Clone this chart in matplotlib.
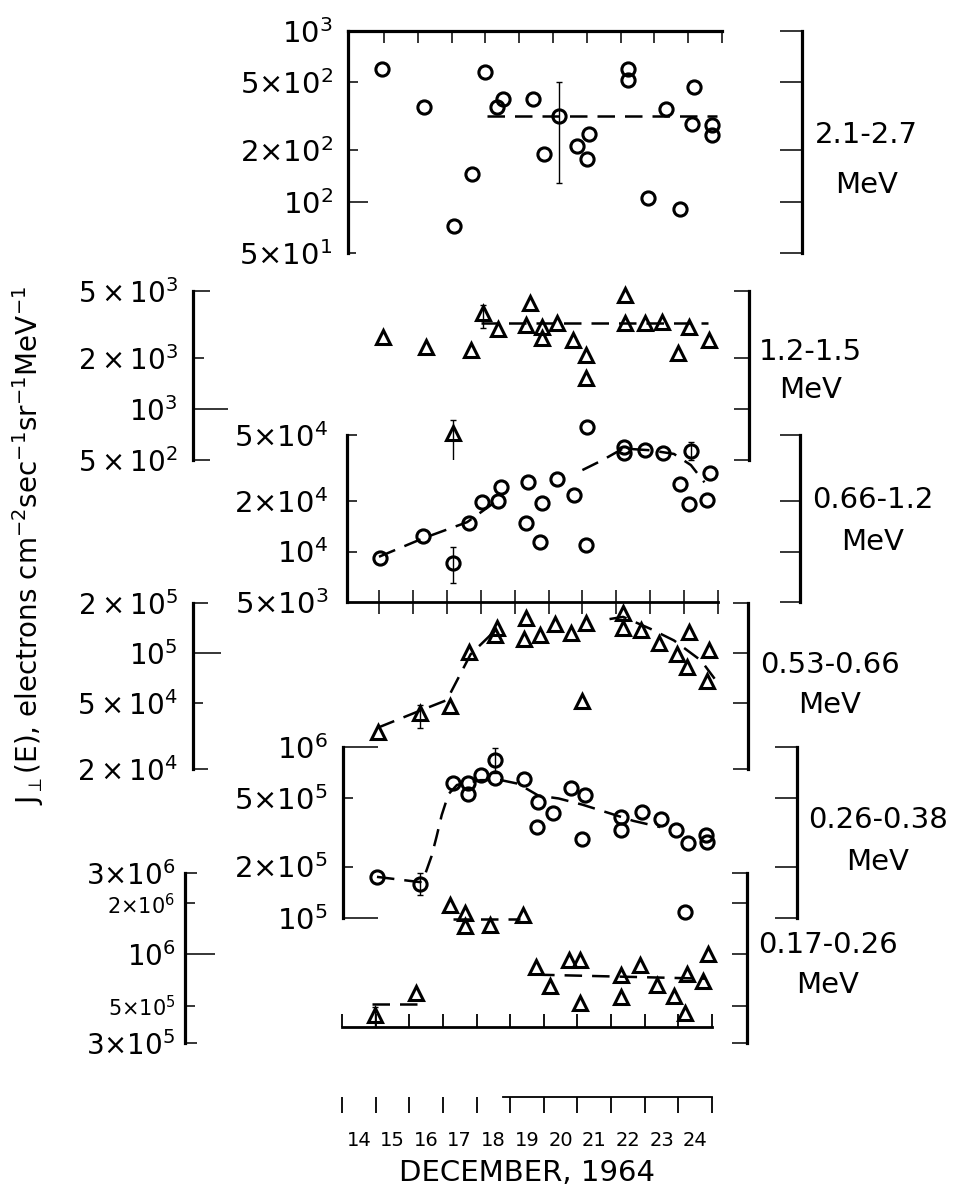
import matplotlib
matplotlib.use('Agg')
import matplotlib.pyplot as plt
import matplotlib.ticker as mticker
from matplotlib import font_manager
import numpy as np

# --- electron flux by energy channel, December 1964 (day of month, flux) ---
# 2.1-2.7 MeV
a_day = [14.93, 16.19, 17.07, 17.59, 17.99, 18.33, 18.53, 19.40, 19.74, 20.18, 20.70,
         21.01, 21.07, 22.21, 22.21, 22.80, 23.33, 23.76, 24.12, 24.18, 24.71, 24.71]
a_flux = [600, 357, 72, 145, 577, 360, 400, 400, 190, 319, 213,
          178, 249, 599, 516, 105, 349, 91, 285, 472, 283, 246]
a_fit = ([18.04, 24.84], [319, 319])
a_err = ([20.18], [319], [128], [505])

# 1.2-1.5 MeV
b_day = [15.11, 16.39, 17.18, 17.71, 18.07, 18.50, 19.35, 19.46, 19.80, 19.80, 20.25,
         20.71, 21.10, 21.10, 22.27, 22.27, 22.85, 23.36, 23.81, 24.15, 24.72]
b_flux = [2685, 2340, 719, 2240, 3690, 2967, 3147, 4228, 2625, 3075, 3220,
          2565, 2090, 1522, 4734, 3220, 3220, 3290, 2140, 3075, 2565]
b_fit = ([18.0, 24.7], [3220, 3220])
b_err = ([17.18, 18.07], [719, 3690], [419, 3020], [863, 4130])

# 0.66-1.2 MeV
c_day = [15.02, 16.30, 17.17, 17.66, 18.05, 18.50, 18.59, 19.35, 19.41, 19.75, 19.80, 20.25,
         20.76, 21.10, 21.14, 22.23, 22.23, 22.85, 23.38, 23.87, 24.15, 24.21, 24.69, 24.77]
c_flux = [9100, 12400, 8570, 14750, 19900, 20100, 24500, 14900, 26200, 11460, 19460, 27100,
          21800, 10940, 55600, 42500, 38800, 40600, 38800, 25400, 19300, 40300, 20400, 29400]
c_fit1 = ([15.0, 16.3, 17.6, 18.6], [9300, 12000, 15000, 21000])
c_fit2 = ([21.0, 21.6, 22.2, 23.0, 23.7, 24.2, 24.6],
          [30800, 35400, 41500, 40500, 38500, 33000, 26000])
c_err = ([17.17, 24.21], [8570, 40300], [6440, 35500], [10700, 45500])

# 0.53-0.66 MeV
d_day = [14.97, 16.22, 17.09, 17.66, 18.41, 18.48, 19.29, 19.35, 19.75, 20.18, 20.67,
         20.99, 21.12, 22.20, 22.21, 22.74, 23.25, 23.79, 24.10, 24.13, 24.69, 24.72]
d_flux = [33500, 43400, 47800, 101000, 128000, 140600, 122000, 162000, 129000, 149000, 132000,
          51200, 151000, 140600, 175000, 137000, 115000, 98800, 82600, 134000, 67900, 103500]
d_fit1 = ([14.97, 16.22, 17.0, 17.7, 18.45], [35500, 45000, 52000, 98000, 138000])
d_fit2 = ([21.8, 22.2, 23.0, 23.7, 24.5, 24.9], [160000, 165000, 140000, 119000, 90000, 70000])
d_err = ([16.22], [43400], [35200], [48900])

# 0.26-0.38 MeV
e_day = [14.94, 16.22, 17.17, 17.62, 17.62, 18.00, 18.41, 18.41, 19.29, 19.66, 19.68, 20.14,
         20.67, 20.98, 21.07, 22.15, 22.15, 22.77, 23.31, 23.77, 24.04, 24.12, 24.66, 24.69]
e_flux = [174600, 158400, 614000, 620000, 529000, 686000, 656000, 839000, 650000, 342000,
          479000, 409000, 573000, 290000, 524000, 392000, 327000, 419000, 378000, 327000,
          109000, 274000, 306000, 280000]
e_fit = ([14.94, 16.22, 16.36, 16.55, 16.7, 16.85, 17.05, 17.3, 18.0, 18.6, 19.1, 19.7,
          20.3, 21.0, 21.8, 22.5, 23.3],
         [174000, 162000, 180000, 230000, 300000, 400000, 530000, 600000, 640000, 640000,
          610000, 520000, 500000, 460000, 410000, 370000, 340000])
e_err = ([16.22, 18.41], [158400, 839000], [136000, 700000], [182500, 982000])

# 0.17-0.26 MeV
f_day = [14.99, 16.21, 17.21, 17.66, 17.66, 18.40, 19.37, 19.77, 20.17, 20.74, 21.08,
         21.08, 22.28, 22.28, 22.85, 23.36, 23.87, 24.21, 24.27, 24.73, 24.88]
f_flux = [4.4e5, 5.9e5, 1.95e6, 1.75e6, 1.46e6, 1.49e6, 1.71e6, 8.47e5, 6.52e5, 9.27e5, 9.27e5,
          5.15e5, 7.57e5, 5.65e5, 8.67e5, 6.61e5, 5.71e5, 4.5e5, 7.68e5, 6.95e5, 1.01e6]
f_fit1 = ([14.9, 16.3], [510000, 510000])
f_fit2 = ([17.3, 19.3], [1.62e6, 1.62e6])
f_fit3 = ([19.8, 24.8], [760000, 720000])
f_err = ([14.99], [440000], [376000], [492000])

days = list(range(14, 25))
day_edges = list(range(14, 26))

# ---------------------------------------------------------------
W, H = 971, 1193
PT = 0.72  # points per pixel at dpi 100

names = {f.name for f in font_manager.fontManager.ttflist}
narrow = 'Liberation Sans Narrow' if 'Liberation Sans Narrow' in names else 'DejaVu Sans'
plt.rcParams['font.family'] = 'DejaVu Sans'
plt.rcParams['mathtext.fontset'] = 'dejavusans'
plt.rcParams['mathtext.default'] = 'regular'

fig = plt.figure(figsize=(W / 100, H / 100), dpi=100)


def box(x0, y0, x1, y1):
    return [x0 / W, 1 - y1 / H, (x1 - x0) / W, (y1 - y0) / H]


def span(x0, x1, p15, step):
    return (15 + (x0 - p15) / step, 15 + (x1 - p15) / step)


def bracket(x, y0, y1, lim, ticks, lens, labels=None, size=20, pad=10, inward=True):
    ax = fig.add_axes(box(x, y0, x + 1, y1))
    ax.set_yscale('log')
    ax.set_ylim(lim)
    ax.patch.set_visible(False)
    for s in ('top', 'right', 'bottom'):
        ax.spines[s].set_visible(False)
    ax.spines['left'].set_linewidth(2.3)
    ax.set_xticks([])
    ax.set_yticks(ticks)
    ax.yaxis.set_minor_locator(mticker.NullLocator())
    ax.set_yticklabels(labels if labels else [])
    ax.tick_params(axis='y', direction='in' if inward else 'out', width=1.1,
                   pad=pad, labelsize=size)
    for t, L in zip(ax.yaxis.get_major_ticks(), lens):
        t.tick1line.set_markersize(L * PT)
    return ax


def panel(x0, y0, x1, y1, xlim, ylim):
    ax = fig.add_axes(box(x0, y0, x1, y1))
    ax.set_yscale('log')
    ax.set_xlim(xlim)
    ax.set_ylim(ylim)
    ax.patch.set_visible(False)
    for s in ax.spines.values():
        s.set_visible(False)
    ax.set_yticks([])
    ax.yaxis.set_minor_locator(mticker.NullLocator())
    ax.set_xticks([])
    return ax


def draw(ax, day, flux, marker, fits, err):
    for fx, fy in fits:
        ax.plot(fx, fy, color='k', lw=1.8, ls=(0, (7, 4)), clip_on=False, zorder=2)
    ed, ef, lo, hi = err
    ax.errorbar(ed, ef, yerr=[np.subtract(ef, lo), np.subtract(hi, ef)], fmt='none',
                ecolor='k', elinewidth=1.0, capsize=2.5, capthick=1.0, zorder=2)
    ax.plot(day, flux, marker, ls='none', ms=9.5, mew=2.2, mec='k', mfc='none',
            clip_on=False, zorder=3)


C_MAP = (379, 33.9)

# 2.1-2.7 MeV
axA = panel(348, 31, 722, 253, span(348, 722, 384, 33.8), (50, 1000))
axA.spines['top'].set_visible(True)
axA.spines['top'].set_linewidth(2.3)
axA.set_xticks(range(15, 26))
axA.tick_params(axis='x', top=True, bottom=False, labeltop=False, labelbottom=False,
                direction='in', length=12 * PT, width=1.1)
draw(axA, a_day, a_flux, 'o', [a_fit], a_err)
bracket(348, 31, 253, (50, 1000), [50, 100, 200, 500, 1000], [8, 20, 10, 10, 0],
        [r'$5{\times}10^{1}$', r'$10^{2}$', r'$2{\times}10^{2}$', r'$5{\times}10^{2}$',
         r'$10^{3}$'], size=21, pad=11)
bracket(802, 31, 253, (50, 1000), [50, 100, 200, 500, 1000], [22] * 5, inward=False)

# 1.2-1.5 MeV
axB = panel(346.5, 291, 718, 460, span(346.5, 718, *C_MAP), (500, 5000))
draw(axB, b_day, b_flux, '^', [b_fit], b_err)
bracket(193, 291, 460, (500, 5000), [500, 1000, 2000, 5000], [17, 35, 11, 17],
        [r'$5\times10^{2}$', r'$10^{3}$', r'$2\times10^{3}$', r'$5\times10^{3}$'],
        size=20, pad=11)
bracket(749, 291, 460, (500, 5000), [500, 1000, 2000, 5000], [15] * 4, inward=False)

# 0.66-1.2 MeV
axC = panel(346.5, 435, 718, 601.7, span(346.5, 718, *C_MAP), (5e3, 5e4))
axC.spines['bottom'].set_visible(True)
axC.spines['bottom'].set_linewidth(2.0)
axC.set_xticks(range(15, 26))
axC.tick_params(axis='x', bottom=True, labelbottom=False, direction='inout',
                length=24 * PT, width=1.1)
draw(axC, c_day, c_flux, 'o', [c_fit1, c_fit2], c_err)
bracket(346.5, 435, 601.7, (5e3, 5e4), [5e3, 1e4, 2e4, 5e4], [0, 10, 10, 10],
        [r'$5{\times}10^{3}$', r'$10^{4}$', r'$2{\times}10^{4}$', r'$5{\times}10^{4}$'],
        size=21, pad=13)
bracket(800, 435, 601.7, (5e3, 5e4), [5e3, 1e4, 2e4, 5e4], [20] * 4, inward=False)

# 0.53-0.66 MeV
axD = panel(346.5, 603, 718, 769, span(346.5, 718, *C_MAP), (2e4, 2e5))
draw(axD, d_day, d_flux, '^', [d_fit1, d_fit2], d_err)
bracket(193, 603, 769, (2e4, 2e5), [2e4, 5e4, 1e5, 2e5], [15, 10, 28, 15],
        [r'$2\times10^{4}$', r'$5\times10^{4}$', r'$10^{5}$', r'$2\times10^{5}$'],
        size=20, pad=11)
bracket(748, 603, 769, (2e4, 2e5), [2e4, 5e4, 1e5, 2e5], [15] * 4, inward=False)

# 0.26-0.38 MeV
axE = panel(346.5, 747, 718, 918, span(346.5, 718, *C_MAP), (1e5, 1e6))
draw(axE, e_day, e_flux, 'o', [e_fit], e_err)
bracket(343, 747, 918, (1e5, 1e6), [1e5, 2e5, 5e5, 1e6], [35, 10, 10, 35],
        [r'$10^{5}$', r'$2{\times}10^{5}$', r'$5{\times}10^{5}$', r'$10^{6}$'],
        size=21, pad=11)
bracket(797, 747, 918, (1e5, 1e6), [1e5, 2e5, 5e5, 1e6], [22] * 4, inward=False)

# 0.17-0.26 MeV
axF = panel(342, 873.3, 712, 1043.3, (14, 25), (3e5, 3e6))
draw(axF, f_day, f_flux, '^', [f_fit1, f_fit2, f_fit3], f_err)
axF_line = panel(342, 1000, 712, 1027, (14, 25), (1, 10))
axF_line.spines['bottom'].set_visible(True)
axF_line.spines['bottom'].set_linewidth(2.0)
axF_line.set_xticks(day_edges)
axF_line.tick_params(axis='x', bottom=True, labelbottom=False, direction='in',
                     length=13 * PT, width=1.3)
fb = bracket(185, 873.3, 1043.3, (3e5, 3e6), [3e5, 5e5, 1e6, 2e6, 3e6], [12, 10, 30, 10, 12],
             [r'$3{\times}10^{5}$', r'$5{\times}10^{5}$', r'$10^{6}$', r'$2{\times}10^{6}$',
              r'$3{\times}10^{6}$'], size=20, pad=7)
for lab, s in zip(fb.get_yticklabels(), [20, 15, 20, 15, 20]):
    lab.set_fontsize(s)
bracket(747, 873.3, 1043.3, (3e5, 3e6), [3e5, 5e5, 1e6, 2e6, 3e6], [15] * 5, inward=False)

# date scale
axT = fig.add_axes(box(342, 1097, 712, 1125))
axT.set_xlim(14, 25)
axT.patch.set_visible(False)
for s in ('left', 'right', 'bottom'):
    axT.spines[s].set_visible(False)
axT.spines['top'].set_linewidth(1.3)
axT.spines['top'].set_bounds(18.8, 25)
axT.set_yticks([])
axT.set_xticks(day_edges)
axT.set_xticks([d + 0.5 for d in days], [str(d) for d in days], minor=True)
axT.tick_params(axis='x', which='major', top=True, bottom=False, labelbottom=False,
                direction='in', length=16 * PT, width=1.3)
axT.tick_params(axis='x', which='minor', top=False, bottom=True, length=0, pad=4,
                labelsize=14)
for lab in axT.get_xticklabels(minor=True):
    lab.set_family(narrow)
axT.set_xlabel('DECEMBER, 1964', fontsize=21, labelpad=7)

# energy channel labels: text starts just right of each bracket, MeV centred below
chan = [('2.1-2.7', 815, 135, 185), ('1.2-1.5', 759, 352, 390), ('0.66-1.2', 812, 500, 542),
        ('0.53-0.66', 760, 665, 705), ('0.26-0.38', 808, 820, 862),
        ('0.17-0.26', 758, 945, 985)]
for txt, x, y1, y2 in chan:
    t = fig.text(x / W, 1 - y1 / H, txt, fontsize=21, ha='left', va='center')
    w = t.get_window_extent(renderer=fig.canvas.get_renderer()).width
    fig.text((x + w / 2) / W, 1 - y2 / H, 'MeV', fontsize=21, ha='center', va='center')

ysize = 24 if narrow != 'DejaVu Sans' else 20
fig.text(28 / W, 1 - 545 / H,
         r'$J_{\perp}$(E), electrons cm$^{-2}$sec$^{-1}$sr$^{-1}$MeV$^{-1}$',
         rotation=90, ha='center', va='center', family=narrow, fontsize=ysize)

fig.savefig('out.png', dpi=100)
